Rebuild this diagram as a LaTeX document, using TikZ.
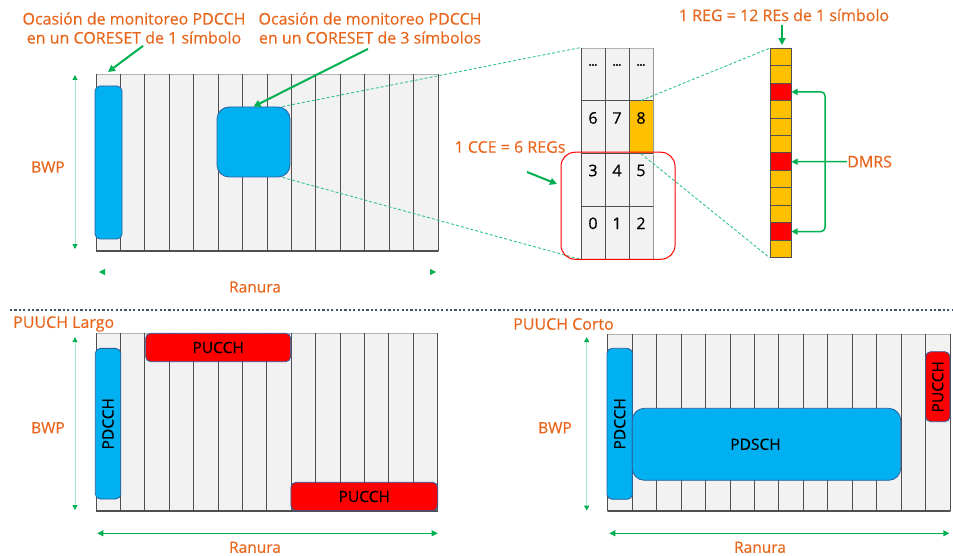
\documentclass[tikz,border=0pt]{standalone}
\usepackage{fontspec}
\setmainfont{Open Sans}[FakeBold=0.4]
\usetikzlibrary{arrows.meta}
\definecolor{orng}{HTML}{E8661C}
\definecolor{grn}{HTML}{00B050}
\definecolor{mint}{HTML}{A6E8C8}
\definecolor{dashg}{HTML}{33C48A}
\definecolor{cblue}{HTML}{00B0F0}
\definecolor{cblueb}{HTML}{2E5F9E}
\definecolor{cred}{HTML}{FF0000}
\definecolor{cyel}{HTML}{FFC000}
\definecolor{cellg}{HTML}{F2F2F2}
\definecolor{lineg}{HTML}{505050}
\definecolor{sepc}{HTML}{44546A}
\tikzset{
  lbl/.style={text=orng, font=\fontsize{16}{19}\selectfont, inner sep=0pt, align=center},
  lbls/.style={text=orng, font=\fontsize{15.5}{18}\selectfont, inner sep=0pt},
  blk/.style={text=black, font=\fontsize{15.5}{18}\selectfont, inner sep=0pt},
  garrow/.style={draw=grn, line width=2pt, -{Triangle[length=7pt,width=7pt]}},
  gthin/.style={draw=grn, line width=1.5pt},
  bwparrow/.style={draw=mint, line width=1pt, {Triangle[color=grn,length=5pt,width=5pt]}-{Triangle[color=grn,length=5pt,width=5pt]}},
  ranarrow/.style={draw=grn, line width=1pt, {Triangle[length=6pt,width=6pt]}-{Triangle[length=6pt,width=6pt]}},
  rantips/.style={draw=white, line width=0.5pt, {Triangle[color=grn,length=6pt,width=6pt]}-{Triangle[color=grn,length=6pt,width=6pt]}},
  dashl/.style={draw=dashg, line width=0.9pt, dash pattern=on 3pt off 2pt},
  bluebox/.style={draw=cblueb, fill=cblue, line width=0.8pt, rounded corners=5pt, inner sep=0pt},
  redbox/.style={draw=cblueb, fill=cred, line width=0.8pt, rounded corners=5pt, inner sep=0pt},
  gridbox/.style={draw=gray!60, fill=cellg, line width=0.8pt, inner sep=0pt},
  regcell/.style={draw=lineg, line width=1pt, minimum width=21pt, minimum height=17.45pt, inner sep=0pt},
}
\newcommand\slotcols[4]{%
  \foreach \i in {1,...,13}
    \draw[lineg, line width=0.9pt] ({#1+\i*(#3-#1)/14},#2) -- ({#1+\i*(#3-#1)/14},#4);
  \draw[lineg, line width=1pt] (#1,#2) -- (#1,#4) (#3,#2) -- (#3,#4);
  \draw[lineg, line width=1.5pt] (#1,#4) -- (#3,#4);
}
\begin{document}
\begin{tikzpicture}[x=1pt,y=-1pt]
\useasboundingbox (0,0) rectangle (953,556);

% ---------------- top left ----------------
\node[lbl] (lab1) at (134,28) {Ocasión de monitoreo PDCCH\\en un CORESET de 1 símbolo};
\node[lbl] (lab2) at (370,28) {Ocasión de monitoreo PDCCH\\en un CORESET de 3 símbolos};

\node[gridbox, minimum width=342pt, minimum height=177pt] (g1) at (267,162.5) {};
\slotcols{96}{74}{438}{251}
\node[bluebox, minimum width=27pt, minimum height=153pt] (pd1) at (108.5,162.5) {};
\node[bluebox, rounded corners=12pt, minimum width=73pt, minimum height=70pt] (core3) at (253.5,142) {};

\coordinate (t1) at (108,72);
\draw[garrow] ([xshift=9pt,yshift=-2pt]lab1.south) -- (t1);
\draw[garrow] ([xshift=-2pt,yshift=-5pt]lab2.south) -- (core3.north);

\coordinate (b1t) at (75,75);
\coordinate (b1b) at (75,249);
\draw[bwparrow] (b1t) -- (b1b);
\node[lbls] (bwp1) at (48,167) {BWP};
\coordinate (r1l) at (99,272);
\coordinate (r1r) at (436,272);
\draw[rantips] (r1l) -- (r1r);
\node[lbls] (ran1) at (255,287) {Ranura};

% ---------------- CCE grid ----------------
\node[draw=gray!60, fill=cellg, line width=0.8pt, minimum width=72pt, minimum height=211pt, inner sep=0pt] (cce) at (617,153.5) {};
\node[fill=cyel, minimum width=24pt, minimum height=52.75pt, inner sep=0pt] (c8) at (641,127.125) {};
\draw[lineg, line width=1pt] (605,48) -- (605,259) (629,48) -- (629,259) (581,48) -- (581,259);
\draw[lineg, line width=1pt] (581,100.75) -- (653,100.75) (581,153.5) -- (653,153.5) (581,206.25) -- (653,206.25);
\draw[lineg!60, line width=0.8pt] (653,48) -- (653,259);
\foreach \x/\t in {593/{...},617/{...},641/{...}}
  \node[blk, font=\bfseries\fontsize{10}{12}\selectfont] at (\x,65) {\t};
\foreach \x/\t in {593/6,617/7,641/8}
  \node[blk, font=\fontsize{16}{19}\selectfont] (n\t) at (\x,118) {\t};
\foreach \x/\t in {593/3,617/4,641/5}
  \node[blk, font=\fontsize{16}{19}\selectfont] (n\t) at (\x,170.5) {\t};
\foreach \x/\t in {593/0,617/1,641/2}
  \node[blk, font=\fontsize{16}{19}\selectfont] (n\t) at (\x,223.3) {\t};

\draw[dashl] ([xshift=-8pt]core3.north east) -- (cce.north west);
\draw[dashl] ([xshift=-8pt]core3.south east) -- (cce.south west);

\node[draw=cred, line width=1pt, rounded corners=14pt, minimum width=114pt, minimum height=107pt, inner sep=0pt] (ccebox) at (618,205.75) {};
\node[lbl] (ccel) at (510,147) {1 CCE = 6 REGs};
\coordinate (c0) at (527,172);
\coordinate (c1) at (557,184);
\draw[garrow] (c0) -- (c1);

% ---------------- REG column ----------------
\foreach \i/\c in {1/cyel,2/cyel,3/cred,4/cyel,5/cyel,6/cyel,7/cred,8/cyel,9/cyel,10/cyel,11/cred,12/cyel}
  \node[regcell, fill=\c] (r\i) at (780.5,{48.3+(\i-0.5)*17.45}) {};
\node[inner sep=0pt, minimum width=21pt, minimum height=209.4pt] (reg) at (780.5,153) {};
\draw[dashl] (c8.north) -- (reg.north west);
\draw[dashl] (c8.south) -- (reg.south west);

\node[lbl] (regl) at (784,15) {1 REG = 12 REs de 1 símbolo};
\draw[garrow, line width=1.8pt] ([xshift=-2pt,yshift=-4pt]regl.south) -- ([xshift=1.5pt,yshift=3pt]reg.north);

\node[lbl, anchor=west] (dmrs) at (847,161.7) {DMRS};
\coordinate (bx) at (825,161.7);
\draw[gthin, -{Triangle[length=6pt,width=6pt]}] (dmrs.west) -- (r7.east);
\draw[gthin, {Triangle[length=6pt,width=6pt]}-{Triangle[length=6pt,width=6pt]}, rounded corners=4pt] (r3.east) -| (bx) |- (r11.east);

% ---------------- separator ----------------
\coordinate (s0) at (10,310);
\coordinate (s1) at (953,310);
\draw[sepc, line width=2.2pt, dash pattern=on 2.2pt off 2.2pt] (s0) -- (s1);

% ---------------- bottom left ----------------
\node[lbl, anchor=west] (tl) at (13,324) {PUUCH Largo};
\node[gridbox, minimum width=341.7pt, minimum height=177.7pt] (g2) at (266.85,422.15) {};
\slotcols{96}{333.3}{437.7}{511}
\node[bluebox, minimum width=25.4pt, minimum height=150.7pt] (pd2) at (108,423.7) {};
\node[blk, rotate=90] at (pd2.center) {PDCCH};
\node[redbox, minimum width=145pt, minimum height=28.4pt] (pu1) at (218.2,347.5) {};
\node[blk] at (pu1.center) {PUCCH};
\node[redbox, minimum width=146.7pt, minimum height=28.4pt] (pu2) at (364.3,496.5) {};
\node[blk] at (pu2.center) {PUCCH};
\coordinate (b2t) at (75,337);
\coordinate (b2b) at (75,510);
\draw[bwparrow] (b2t) -- (b2b);
\node[lbls] (bwp2) at (48,427.7) {BWP};
\coordinate (r2l) at (97.3,533.3);
\coordinate (r2r) at (437.7,533.3);
\draw[ranarrow] (r2l) -- (r2r);
\node[lbls] (ran2) at (255,547.3) {Ranura};

% ---------------- bottom right ----------------
\node[lbl, anchor=west] (tr) at (513,324) {PUUCH Corto};
\node[gridbox, minimum width=342.3pt, minimum height=176.7pt] (g3) at (778.85,422.65) {};
\slotcols{607.7}{334.3}{950}{511}
\node[bluebox, minimum width=25.3pt, minimum height=151pt] (pd3) at (619.7,423.8) {};
\node[blk, rotate=90] at (pd3.center) {PDCCH};
\node[bluebox, rounded corners=12pt, minimum width=268.4pt, minimum height=72pt] (pdsch) at (766.5,444.3) {};
\node[blk] at ([xshift=-11pt]pdsch.center) {PDSCH};
\node[redbox, minimum width=24.3pt, minimum height=70pt] (pu3) at (937.8,386.7) {};
\node[blk, rotate=90] at (pu3.center) {PUCCH};
\coordinate (b3t) at (586.7,337);
\coordinate (b3b) at (586.7,510.7);
\draw[bwparrow] (b3t) -- (b3b);
\node[lbls] (bwp3) at (555,427.7) {BWP};
\coordinate (r3l) at (609.3,533.3);
\coordinate (r3r) at (949.3,533.3);
\draw[ranarrow] (r3l) -- (r3r);
\node[lbls] (ran3) at (760,547.3) {Ranura};
\end{tikzpicture}
\end{document}
